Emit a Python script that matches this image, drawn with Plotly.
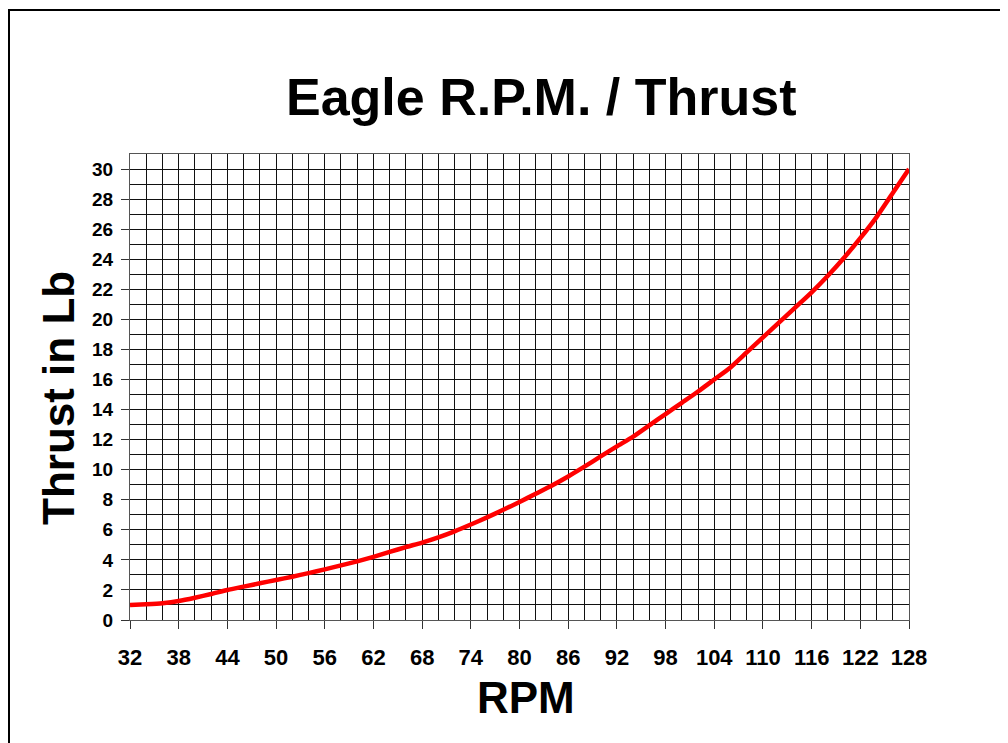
import plotly.graph_objects as go

rpm = [32, 34, 36, 38, 40, 42, 44, 46, 48, 50, 52, 54, 56, 58, 60, 62, 64, 66, 68, 70,
       72, 74, 76, 78, 80, 82, 84, 86, 88, 90, 92, 94, 96, 98, 100, 102, 104, 106, 108,
       110, 112, 114, 116, 118, 120, 122, 124, 126, 128]
thrust = [1.00, 1.05, 1.12, 1.26, 1.48, 1.73, 2.00, 2.22, 2.44, 2.66, 2.88, 3.12, 3.37,
          3.63, 3.90, 4.20, 4.53, 4.85, 5.15, 5.50, 5.90, 6.35, 6.83, 7.33, 7.85, 8.40,
          8.95, 9.55, 10.20, 10.88, 11.55, 12.20, 12.95, 13.70, 14.45, 15.20, 16.00,
          16.80, 17.80, 18.80, 19.80, 20.80, 21.80, 22.90, 24.10, 25.40, 26.80, 28.40, 30.00]

x_ticks = list(range(32, 129, 6))
y_ticks = list(range(0, 31, 2))

title_text = "Eagle R.P.M. / Thrust"
x_title = "RPM"
y_title = "Thrust in Lb"

# page body adds an 8px offset; figure coordinates are page coordinates minus 8
OFF = 8
W, H = 1000, 735
L, R, T, B = 130 - OFF, 99, 154 - OFF, 123
pw, ph = W - L - R, H - T - B


def px(x):
    return (x - OFF - L) / pw


def py(y):
    return (H - B - (y - OFF)) / ph


fig = go.Figure()
fig.add_trace(go.Scatter(x=rpm, y=thrust, mode="lines",
                         line=dict(color="#ff0000", width=4.5, shape="spline", smoothing=0.6),
                         showlegend=False, hoverinfo="x+y"))

font = "Liberation Sans, Arial, sans-serif"

fig.update_layout(
    width=W, height=H,
    margin=dict(l=L, r=R, t=T, b=B, pad=0),
    paper_bgcolor="white", plot_bgcolor="white",
    showlegend=False,
    xaxis=dict(range=[32, 128], tickvals=x_ticks, ticktext=[str(v) for v in x_ticks],
               showgrid=True, gridcolor="#111111", gridwidth=1,
               minor=dict(dtick=2, tick0=32, showgrid=True, gridcolor="#111111", gridwidth=1, ticks=""),
               ticks="outside", ticklen=8, tickwidth=1, tickcolor="#333333",
               showline=True, linecolor="#555555", linewidth=1, mirror=True,
               zeroline=False, fixedrange=True, ticklabelstandoff=10,
               tickfont=dict(family=font, size=22, color="black", weight="bold")),
    yaxis=dict(range=[0, 31], tickvals=y_ticks, ticktext=[str(v) for v in y_ticks],
               showgrid=True, gridcolor="#111111", gridwidth=1,
               minor=dict(dtick=1, tick0=0, showgrid=True, gridcolor="#111111", gridwidth=1, ticks=""),
               ticks="outside", ticklen=8, tickwidth=1, tickcolor="#333333",
               showline=True, linecolor="#555555", linewidth=1, mirror=True,
               zeroline=False, fixedrange=True, ticklabelstandoff=4,
               tickfont=dict(family=font, size=19, color="black", weight="bold")),
)

fig.add_annotation(text=title_text, xref="paper", yref="paper", x=px(541), y=py(97),
                   showarrow=False, xanchor="center", yanchor="middle",
                   font=dict(family=font, size=52, color="black", weight="bold"))
fig.add_annotation(text=x_title, xref="paper", yref="paper", x=px(526), y=py(697),
                   showarrow=False, xanchor="center", yanchor="middle",
                   font=dict(family=font, size=44, color="black", weight="bold"))
fig.add_annotation(text=y_title, xref="paper", yref="paper", x=px(58), y=py(398),
                   showarrow=False, xanchor="center", yanchor="middle", textangle=-90,
                   font=dict(family=font, size=44, color="black", weight="bold"))

fig.add_shape(type="rect", xref="paper", yref="paper",
              x0=px(9), y0=py(760), x1=px(1020), y1=py(10),
              line=dict(color="black", width=2), fillcolor="rgba(0,0,0,0)", layer="below")

fig.write_html("out.html")
